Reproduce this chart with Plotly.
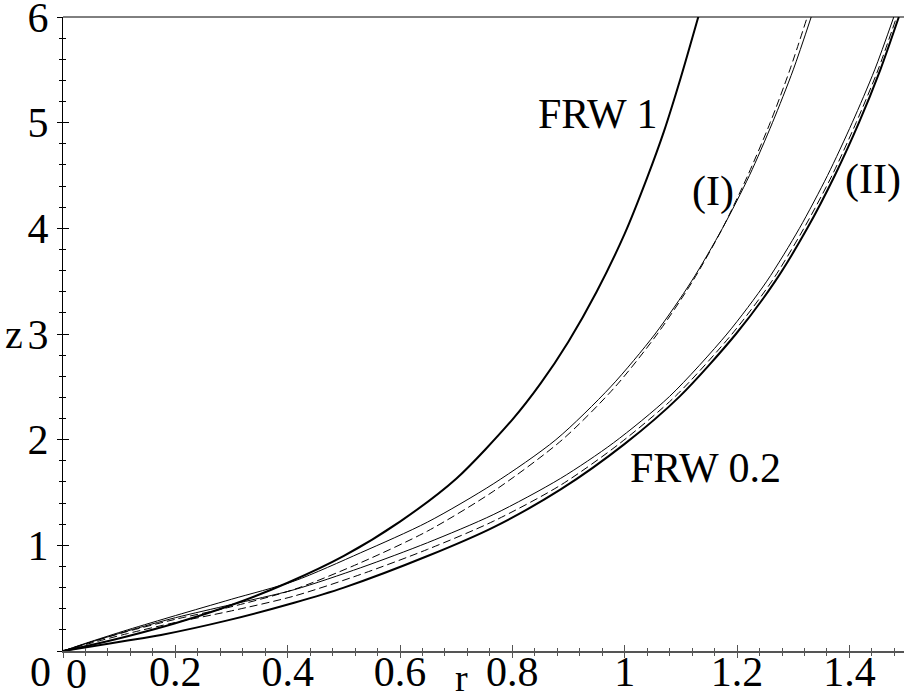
import plotly.graph_objects as go

# ---- data (r, z) ----
frw1_r = [0, 0.05, 0.115, 0.2, 0.3, 0.4, 0.5, 0.6, 0.7, 0.8, 0.85, 0.9, 0.95, 1.0, 1.04, 1.07, 1.1, 1.132]
frw1_z = [0, 0.057, 0.14, 0.263, 0.435, 0.646, 0.9, 1.225, 1.63, 2.19, 2.53, 2.93, 3.4, 3.95, 4.48, 4.92, 5.43, 6.02]

frw02_r = [0, 0.05, 0.115, 0.1745, 0.293, 0.4115, 0.5, 0.649, 0.767, 0.886, 1.0, 1.098, 1.198, 1.268, 1.325, 1.374, 1.417, 1.455, 1.488]
frw02_z = [0, 0.043, 0.099, 0.152, 0.29, 0.457, 0.60, 0.899, 1.173, 1.529, 1.96, 2.41, 3.0, 3.5, 4.0, 4.5, 5.0, 5.5, 6.0]

m1_solid_r = [0, 0.05, 0.115, 0.2, 0.3, 0.4115, 0.53, 0.649, 0.767, 0.8775, 0.975, 1.054, 1.119, 1.174, 1.222, 1.263, 1.30, 1.332]
m1_solid_z = [0, 0.09, 0.2, 0.335, 0.49, 0.662, 0.93, 1.22, 1.585, 2.0, 2.5, 3.0, 3.5, 4.0, 4.5, 5.0, 5.5, 6.0]

m1_dash_r = [0, 0.05, 0.115, 0.2, 0.293, 0.4115, 0.53, 0.649, 0.767, 0.889, 0.983, 1.058, 1.121, 1.174, 1.219, 1.259, 1.294, 1.325]
m1_dash_z = [0, 0.085, 0.185, 0.3, 0.41, 0.583, 0.836, 1.135, 1.514, 2.0, 2.5, 3.0, 3.5, 4.0, 4.5, 5.0, 5.5, 6.0]

m2_solid_r = [0, 0.05, 0.115, 0.2, 0.3, 0.4115, 0.53, 0.649, 0.767, 0.886, 0.98, 1.08, 1.182, 1.253, 1.311, 1.361, 1.405, 1.445, 1.479]
m2_solid_z = [0, 0.085, 0.19, 0.315, 0.44, 0.58, 0.788, 1.025, 1.293, 1.634, 1.97, 2.41, 3.0, 3.5, 4.0, 4.5, 5.0, 5.5, 6.0]

m2_dash_r = [0, 0.05, 0.115, 0.2, 0.3, 0.4115, 0.53, 0.649, 0.767, 0.886, 0.99, 1.09, 1.191, 1.262, 1.319, 1.369, 1.412, 1.451, 1.484]
m2_dash_z = [0, 0.075, 0.165, 0.27, 0.38, 0.52, 0.725, 0.962, 1.23, 1.57, 1.96, 2.41, 3.0, 3.5, 4.0, 4.5, 5.0, 5.5, 6.0]

x_ticks = [0, 0.2, 0.4, 0.6, 0.8, 1.0, 1.2, 1.4]
x_labels = ["", "0.2", "0.4", "0.6", "0.8", "1", "1.2", "1.4"]
y_ticks = [0, 1, 2, 3, 4, 5, 6]
y_labels = ["", "1", "2", "3", "4", "5", "6"]

labels = [("FRW 1", 0.952, 5.08), ("(I)", 1.158, 4.35), ("(II)", 1.442, 4.46), ("FRW 0.2", 1.144, 1.73)]

FONT = "Liberation Serif, Times New Roman, serif"
XR = [0, 1.4972]
YR = [0, 6]

fig = go.Figure()

def add(r, z, width, dash="solid", axes=("x", "y")):
    fig.add_trace(go.Scatter(x=r, y=z, mode="lines", xaxis=axes[0], yaxis=axes[1],
                             line=dict(color="black", width=width, dash=dash, shape="spline", smoothing=0.8),
                             showlegend=False, hoverinfo="skip"))

add(m1_solid_r, m1_solid_z, 1)
add(m1_dash_r, m1_dash_z, 1, "8px,4px")
add(m2_solid_r, m2_solid_z, 1)
add(m2_dash_r, m2_dash_z, 1, "8px,4px")
add(frw02_r, frw02_z, 2)
add(frw1_r, frw1_z, 2, axes=("x2", "y2"))

axcol = "#555555"
fig.update_layout(
    template="none",
    width=904, height=698,
    margin=dict(l=63, r=0, t=17, b=47, pad=0, autoexpand=False),
    paper_bgcolor="white", plot_bgcolor="white",
    font=dict(family=FONT, size=42, color="black"),
    xaxis=dict(range=XR, tickvals=x_ticks, ticktext=x_labels, ticks="outside", ticklen=5,
               tickwidth=1, tickcolor=axcol, showgrid=False, zeroline=False, automargin=False,
               showline=True, linecolor=axcol, linewidth=2, ticklabelstandoff=-22,
               ticklabeloverflow="allow",
               minor=dict(dtick=0.04, tick0=0, ticks="outside", ticklen=3, tickcolor=axcol, showgrid=False),
               tickfont=dict(family=FONT, size=42, color="black")),
    yaxis=dict(range=YR, tickvals=y_ticks, ticktext=y_labels, ticks="outside", ticklen=5,
               tickwidth=1, tickcolor="black", showgrid=False, zeroline=False, automargin=False,
               showline=True, linecolor="black", linewidth=1, ticklabeloverflow="allow",
               minor=dict(dtick=0.2, tick0=0, ticks="outside", ticklen=3, tickcolor="black", showgrid=False),
               tickfont=dict(family=FONT, size=42, color="black")),
    xaxis2=dict(range=XR, overlaying="x", anchor="y2", side="bottom", tickvals=x_ticks, automargin=False,
                ticks="inside", ticklen=6, tickwidth=1, tickcolor=axcol, showticklabels=False,
                showgrid=False, zeroline=False, showline=False,
                minor=dict(dtick=0.04, tick0=0, ticks="inside", ticklen=3, tickcolor=axcol, showgrid=False)),
    yaxis2=dict(range=YR, overlaying="y", anchor="x2", side="left", tickvals=y_ticks, automargin=False,
                ticks="inside", ticklen=6, tickwidth=1, tickcolor="black", showticklabels=False,
                showgrid=False, zeroline=False, showline=False,
                minor=dict(dtick=0.2, tick0=0, ticks="inside", ticklen=3, tickcolor="black", showgrid=False)),
)

# top frame line
fig.add_shape(type="line", xref="paper", yref="paper", x0=0, x1=1, y0=1, y1=1,
              line=dict(color="black", width=1))

for txt, x, y in labels:
    fig.add_annotation(x=x, y=y, text=txt, showarrow=False, xanchor="center", yanchor="middle",
                       font=dict(family=FONT, size=42, color="black"))

# zero labels and axis titles
fig.add_annotation(x=0, y=0, text="0", showarrow=False, xanchor="center", yanchor="top",
                   xshift=13, yshift=2, font=dict(family=FONT, size=42))
fig.add_annotation(x=0, y=0, text="0", showarrow=False, xanchor="right", yanchor="top",
                   xshift=-10, yshift=4, font=dict(family=FONT, size=42))
fig.add_annotation(xref="paper", yref="paper", x=-0.058, y=0.50, text="z", showarrow=False,
                   xanchor="center", yanchor="middle", font=dict(family=FONT, size=40))
fig.add_annotation(xref="paper", yref="paper", x=0.4733, y=-0.043, text="r", showarrow=False,
                   xanchor="center", yanchor="middle", font=dict(family=FONT, size=38))

fig.write_html("out.html")
